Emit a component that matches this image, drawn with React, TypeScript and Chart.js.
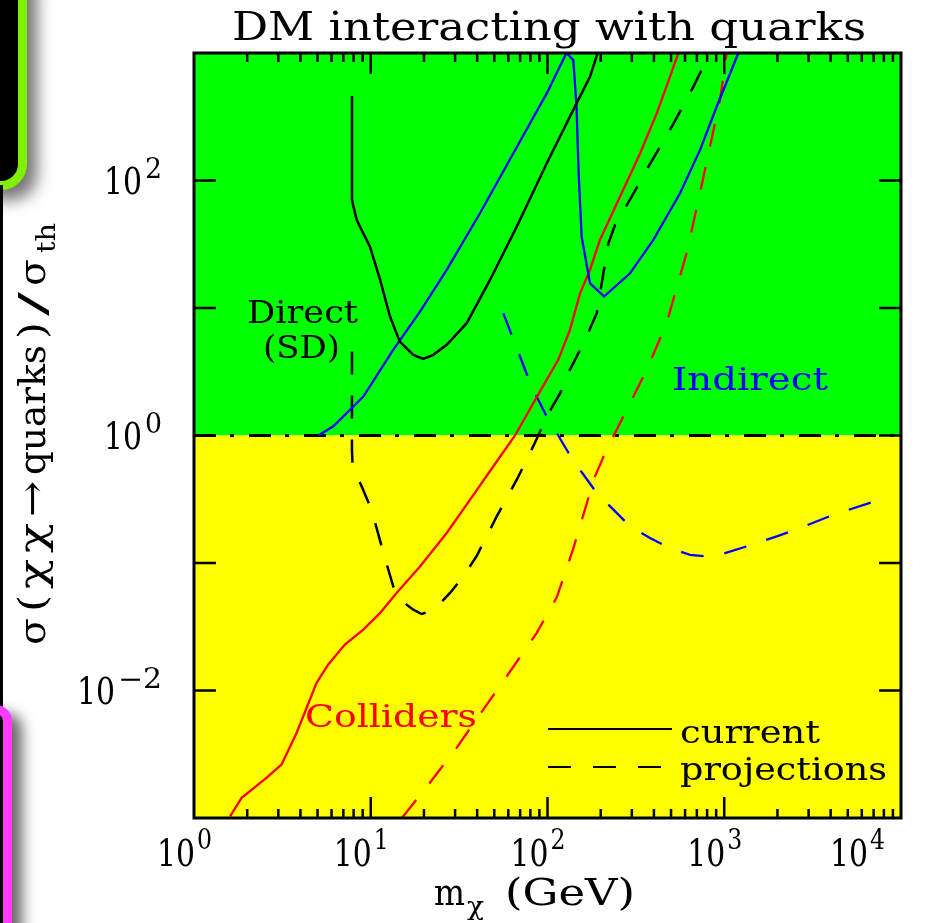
import React, { useEffect, useRef } from "react";
import { Chart, registerables } from "chart.js";
Chart.register(...registerables);

// ---------- data ----------
const directCurX = [7.83, 7.83, 8.33, 9.9, 11.3, 12.85, 14.6, 17.4, 19.8, 22.6, 26.9, 34.9, 47.3, 67, 98.9, 146, 174, 192];
const directCurY = [459, 70.3, 49, 30.3, 16.6, 8.57, 5.45, 4.29, 3.99, 4.29, 5.14, 7.6, 16.6, 43.5, 136, 403, 651, 1000];

const directProjX = [7.83, 7.83, 7.9, 8.89, 10.1, 11.8, 13.4, 14.6, 17.4, 19.4, 22.6, 28.1, 33.4, 39.7, 51.6, 67, 79.6, 88.7, 99, 118, 128, 160, 190, 221, 241, 300, 372, 505, 668, 830];
const directProjY = [4.55, 0.75, 0.57, 0.398, 0.262, 0.12, 0.0656, 0.0515, 0.043, 0.0398, 0.0425, 0.0582, 0.0785, 0.113, 0.232, 0.45, 0.728, 1.0, 1.41, 2.15, 2.9, 5.3, 9.1, 32.2, 44.8, 75, 128, 264, 543, 1000];

const indirectCurX = [5.05, 6.14, 9.08, 13.4, 19, 26.9, 41.5, 64, 99, 128, 140, 146, 150, 156, 174, 209, 293, 397, 562, 729, 906, 1202];
const indirectCurY = [1.0, 1.18, 2.02, 4.69, 9.37, 19.9, 55.3, 163, 482, 1000, 880, 379, 114, 36.3, 15.6, 12.3, 18.7, 34.2, 79.4, 173, 379, 1000];

const indirectProjX = [56.2, 77.9, 88.7, 99, 115, 137, 160, 190, 236, 293, 380, 493, 640, 778, 946, 1340, 1982, 2685, 4140, 8110];
const indirectProjY = [9.1, 2.82, 1.9, 1.41, 1.0, 0.665, 0.492, 0.354, 0.262, 0.194, 0.157, 0.131, 0.116, 0.113, 0.116, 0.135, 0.162, 0.188, 0.239, 0.323];

const colliderCurX = [1.6, 1.86, 2.58, 3.13, 3.81, 4.94, 5.75, 7.14, 9.08, 11.3, 14, 19, 26.9, 36.4, 49.3, 65.5, 86.9, 115, 134, 153, 174, 198, 257, 334, 415, 493, 550];
const colliderCurY = [1.03e-3, 1.44e-3, 2.07e-3, 2.63e-3, 4.66e-3, 0.0115, 0.016, 0.0229, 0.03, 0.0406, 0.0582, 0.094, 0.172, 0.313, 0.571, 1.0, 2.0, 3.92, 6.74, 13.1, 19.9, 34.2, 74.7, 163, 336, 651, 1000];

const colliderProjX = [15, 21.6, 30.6, 43.3, 61.4, 86.9, 113, 140, 167, 182, 216, 257, 293, 364, 472, 612, 729, 830, 946, 1033];
const colliderProjY = [1e-3, 1.89e-3, 3.55e-3, 7.08e-3, 0.0141, 0.0283, 0.054, 0.13, 0.295, 0.45, 0.773, 1.25, 1.79, 3.27, 7.6, 26.9, 79.4, 184, 427, 1000];

const thresholdX = [1, 10000];
const thresholdY = [1, 1];

const xTickExps = [0, 1, 2, 3, 4];
const yTickExps = [2, 0, -2];
const yDecades = [-2, -1, 0, 1, 2];

const TITLE = "DM interacting with quarks";
const FONT = '"DejaVu Serif", "Liberation Serif", serif';

function pts(xs: number[], ys: number[]) {
  return xs.map((x, i) => ({ x, y: ys[i] }));
}

function drawFit(ctx: CanvasRenderingContext2D, s: string, x: number, y: number, size: number, w: number, color: string, align: CanvasTextAlign = "left") {
  ctx.save();
  ctx.font = `${size}px ${FONT}`;
  const m = ctx.measureText(s).width || 1;
  const sx = w / m;
  ctx.translate(x, y);
  ctx.scale(sx, 1);
  ctx.textAlign = align;
  ctx.textBaseline = "alphabetic";
  ctx.fillStyle = color;
  ctx.fillText(s, 0, 0);
  ctx.restore();
}

const framePlugin = {
  id: "frame",
  beforeDatasetsDraw(chart: any) {
    const { ctx, chartArea: a, scales } = chart;
    const y1 = scales.y.getPixelForValue(1);
    ctx.save();
    ctx.fillStyle = "#00ff00";
    ctx.fillRect(a.left, a.top, a.right - a.left, y1 - a.top);
    ctx.fillStyle = "#ffff00";
    ctx.fillRect(a.left, y1, a.right - a.left, a.bottom - y1);
    ctx.restore();
  },
  afterDraw(chart: any) {
    const { ctx, chartArea: a, scales } = chart;
    const xs = scales.x, ys = scales.y;
    ctx.save();
    // ticks
    ctx.strokeStyle = "#000";
    ctx.lineWidth = 2.5;
    ctx.beginPath();
    for (let d = 0; d <= 3; d++) {
      for (let k = 1; k <= 9; k++) {
        const v = k * Math.pow(10, d);
        const px = xs.getPixelForValue(v);
        const len = k === 1 ? 21 : 9;
        if (k === 1 && d === 0) continue;
        ctx.moveTo(px, a.bottom); ctx.lineTo(px, a.bottom - len);
        ctx.moveTo(px, a.top); ctx.lineTo(px, a.top + len);
      }
    }
    for (const e of yDecades) {
      const py = ys.getPixelForValue(Math.pow(10, e));
      ctx.moveTo(a.left, py); ctx.lineTo(a.left + 22, py);
      ctx.moveTo(a.right, py); ctx.lineTo(a.right - 22, py);
    }
    ctx.stroke();
    // frame
    ctx.lineWidth = 3;
    ctx.strokeRect(a.left, a.top, a.right - a.left, a.bottom - a.top);

    // x tick labels
    for (const e of xTickExps) {
      let px = xs.getPixelForValue(Math.pow(10, e));
      if (e === 4) px -= 34;
      drawFit(ctx, "10", px + 1, 866, 37, 38, "#000", "right");
      drawFit(ctx, String(e), px + 3, 849, 27, 15, "#000", "left");
    }
    // y tick labels
    for (const e of yTickExps) {
      const py = ys.getPixelForValue(Math.pow(10, e));
      const sup = e < 0 ? "\u2212" + String(-e) : String(e);
      const supW = e < 0 ? 44 : 17;
      const right = 162;
      drawFit(ctx, sup, right, py - 3, 27, supW, "#000", "right");
      drawFit(ctx, "10", right - supW - 3, py + 13, 37, 38, "#000", "right");
    }

    // title
    drawFit(ctx, TITLE, 232, 40, 39, 634, "#000", "left");

    // x axis title
    drawFit(ctx, "m", 434, 905, 38, 31, "#000", "left");
    drawFit(ctx, "\u03c7", 467, 915, 26, 17, "#000", "left");
    drawFit(ctx, "(GeV)", 505, 905, 38, 130, "#000", "left");

    // y axis title (rotated)
    ctx.save();
    ctx.translate(45, 0);
    ctx.rotate(-Math.PI / 2);
    const parts: [string, number, number, number][] = [
      ["\u03c3", 38, 27, 0],
      ["(", 38, 17, 0],
      ["\u03c7", 38, 30, 0],
      ["\u03c7", 38, 30, 0],
      ["\u2192", 38, 36, 0],
      ["quarks", 38, 130, 0],
      [")", 38, 17, 0],
      ["/", 38, 24, 0],
      ["\u03c3", 38, 27, 0],
      ["th", 26, 30, 10],
    ];
    let cur = -645;
    for (const [s, size, w, dy] of parts) {
      drawFit(ctx, s, cur, dy, size, w, "#000", "left");
      cur += w + 6;
    }
    ctx.restore();

    // annotations
    drawFit(ctx, "Direct", 247, 323, 32, 111, "#000", "left");
    drawFit(ctx, "(SD)", 263, 358, 32, 77, "#000", "left");
    drawFit(ctx, "Indirect", 672, 390, 32, 156, "#0000ff", "left");
    drawFit(ctx, "Colliders", 305, 727, 32, 172, "#ff0000", "left");

    // legend
    ctx.strokeStyle = "#000";
    ctx.lineWidth = 2.2;
    ctx.setLineDash([]);
    ctx.beginPath();
    ctx.moveTo(548, 729); ctx.lineTo(672, 729);
    ctx.stroke();
    ctx.setLineDash([23, 22]);
    ctx.beginPath();
    ctx.moveTo(548, 767); ctx.lineTo(664, 767);
    ctx.stroke();
    ctx.setLineDash([]);
    drawFit(ctx, "current", 680, 743, 32, 140, "#000", "left");
    drawFit(ctx, "projections", 680, 780, 32, 207, "#000", "left");
    ctx.restore();
  },
};

export default function App() {
  const ref = useRef<HTMLCanvasElement | null>(null);
  useEffect(() => {
    if (!ref.current) return;
    const dash = [23, 21];
    const line = (data: any[], color: string, dashed: boolean, w = 2.3) => ({
      data,
      borderColor: color,
      borderWidth: w,
      borderDash: dashed ? dash : [],
      pointRadius: 0,
      tension: 0,
      fill: false,
    });
    const chart = new Chart(ref.current, {
      type: "line",
      data: {
        datasets: [
          line(pts(directCurX, directCurY), "#000000", false, 2.5),
          line(pts(indirectCurX, indirectCurY), "#0000ff", false),
          line(pts(colliderCurX, colliderCurY), "#ff0000", false),
          line(pts(directProjX, directProjY), "#000000", true, 2.5),
          line(pts(indirectProjX, indirectProjY), "#0000ff", true),
          line(pts(colliderProjX, colliderProjY), "#ff0000", true),
          { ...line(pts(thresholdX, thresholdY), "#000000", false, 3), borderDash: [22, 14, 4, 15] },
        ],
      },
      options: {
        animation: false,
        responsive: false,
        events: [],
        layout: { padding: { left: 194, top: 53, right: 27, bottom: 105 } },
        plugins: { legend: { display: false }, tooltip: { enabled: false }, title: { display: false } },
        scales: {
          x: { type: "logarithmic", min: 1, max: 10000, display: false },
          y: { type: "logarithmic", min: 1e-3, max: 1e3, display: false },
        },
      },
      plugins: [framePlugin],
    });
    return () => chart.destroy();
  }, []);
  return (
    <div>
      <div style={{ position: "absolute", left: -40, top: -40, width: 67, height: 230, boxSizing: "border-box", background: "#000", border: "9px solid #80f000", borderRadius: 26, boxShadow: "10px 10px 16px rgba(0,0,0,0.55)" }} />
      <div style={{ position: "absolute", left: 0, top: 185, width: 3, height: 530, background: "#000" }} />
      <div style={{ position: "absolute", left: -40, top: 705, width: 52, height: 400, boxSizing: "border-box", background: "#000", border: "9px solid #ff3cff", borderRadius: 16, boxShadow: "10px 8px 14px rgba(0,0,0,0.6)" }} />
      <canvas ref={ref} width={928} height={923} style={{ position: "absolute", left: 0, top: 0, width: 928, height: 923 }} />
    </div>
  );
}
